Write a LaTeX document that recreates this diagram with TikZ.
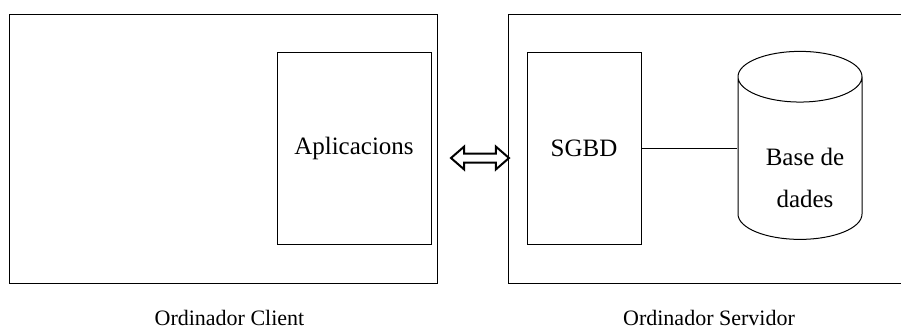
\documentclass[tikz,border=0pt]{standalone}
\usepackage{fontspec}
\setmainfont{Liberation Serif}
\usepackage{tikz}
\usetikzlibrary{shapes.geometric,shapes.arrows}
\tikzstyle{Computer}=[rectangle, draw=black, line width=0.5pt, minimum height=134.5pt, inner sep=0pt]
\tikzstyle{Gate}=[rectangle, draw=black, line width=0.5pt, minimum height=96pt, text centered, font=\fontsize{12.5}{15}\selectfont]
\tikzstyle{Caption}=[font=\fontsize{11}{13}\selectfont, anchor=base]

\begin{document}
\begin{tikzpicture}[x=0.5pt, y=-0.5pt]
    \useasboundingbox (0,0) rectangle (901,329);
    \path
    (223,148.5) node[Computer, minimum width=214pt] (client) {}
    (709,148.5) node[Computer, minimum width=201pt] (server) {}
    (354,148) node[Gate, minimum width=77pt] (app) {Aplicacions}
    (584,148) node[Gate, minimum width=57pt] (sgbd) {SGBD}
    (800,164) node[cylinder, shape border rotate=90, draw=black, line width=0.5pt, minimum width=62pt, minimum height=94pt, aspect=3.8] (db) {};

    \path (805,177.5) node[align=center, font=\fontsize{12.5}{21}\selectfont] (dbtext) {Base de\\dades}
    (229.5,325) node[Caption] (clientlabel) {Ordinador Client}
    (709,325) node[Caption] (serverlabel) {Ordinador Servidor}
    (480,158) node[double arrow, draw=black, line width=1pt, inner xsep=0pt, inner ysep=1.75pt, minimum height=29pt, double arrow head extend=3.5pt, double arrow tip angle=82] (link) {};

    \draw[line width=0.5pt] (sgbd) -- (db.west |- sgbd);
\end{tikzpicture}
\end{document}
